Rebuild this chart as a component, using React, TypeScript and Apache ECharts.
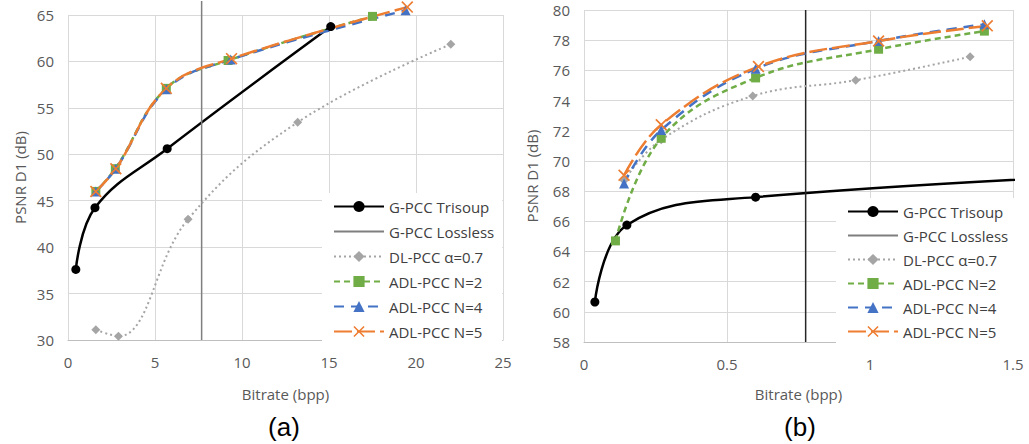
import React, { useEffect, useRef } from "react";
import * as echarts from "echarts";

const seriesNames = ["G-PCC Trisoup", "G-PCC Lossless", "DL-PCC α=0.7", "ADL-PCC N=2", "ADL-PCC N=4", "ADL-PCC N=5"];

// Chart (a)
const trisoupA = [[0.45, 37.6], [1.55, 44.25], [5.7, 50.6], [15.1, 63.75]];
const losslessA = [[7.68, 30], [7.68, 66.5]];
const dlA = [[1.6, 31.1], [2.9, 30.4], [6.9, 43.0], [13.2, 53.45], [22.0, 61.85]];
const n2A = [[1.6, 46.0], [2.72, 48.45], [5.65, 57.1], [9.2, 60.1], [17.5, 64.85]];
const n4A = [[1.6, 46.0], [2.75, 48.45], [5.65, 57.0], [9.35, 60.2], [19.4, 65.5]];
const n5A = [[1.6, 46.0], [2.75, 48.45], [5.65, 57.1], [9.4, 60.3], [19.5, 65.85]];

// Chart (b)
const trisoupB = [[0.038, 60.65], [0.15, 65.75], [0.6, 67.6], [2.5, 69.6]];
const losslessB = [[0.775, 58], [0.775, 80]];
const dlB = [[0.14, 68.7], [0.27, 71.4], [0.59, 74.3], [0.95, 75.35], [1.35, 76.9]];
const n2B = [[0.11, 64.7], [0.27, 71.5], [0.6, 75.5], [1.03, 77.4], [1.4, 78.6]];
const n4B = [[0.14, 68.5], [0.27, 72.05], [0.6, 76.1], [1.03, 77.95], [1.4, 79.05]];
const n5B = [[0.14, 69.05], [0.27, 72.4], [0.61, 76.25], [1.03, 77.95], [1.41, 78.95]];

const xTitle = "Bitrate (bpp)";
const yTitle = "PSNR D1 (dB)";
const captions = ["(a)", "(b)"];

const FONT = "'Open Sans', sans-serif";
const CAPFONT = "'Liberation Sans', Arial, sans-serif";
const XMARK = "path://M2,0 L10,8 L18,0 L20,2 L12,10 L20,18 L18,20 L10,12 L2,20 L0,18 L8,10 L0,2 Z";

function makeSeries(idx: number, data: any[][], clip: boolean, losslessColor: string) {
  const common = { xAxisIndex: idx, yAxisIndex: idx, clip, z: 2 };
  return [
    {
      ...common, name: seriesNames[0], type: "line", data: data[0], smooth: 0.4,
      symbol: "circle", symbolSize: 9,
      itemStyle: { color: "#000000" }, lineStyle: { color: "#000000", width: 2.5 },
    },
    {
      ...common, name: seriesNames[1], type: "line", data: data[1], smooth: false,
      symbol: "circle", symbolSize: 0, showSymbol: false,
      itemStyle: { color: losslessColor, opacity: 0 }, lineStyle: { color: losslessColor, width: 1.5, opacity: 1 },
    },
    {
      ...common, name: seriesNames[2], type: "line", data: data[2], smooth: 0.4,
      symbol: "diamond", symbolSize: 9,
      itemStyle: { color: "#a5a5a5" }, lineStyle: { color: "#a5a5a5", width: 2, type: [2, 3] },
    },
    {
      ...common, name: seriesNames[3], type: "line", data: data[3], smooth: 0.4,
      symbol: "rect", symbolSize: 9,
      itemStyle: { color: "#70ad47" }, lineStyle: { color: "#70ad47", width: 2.5, type: [6, 4] },
    },
    {
      ...common, name: seriesNames[4], type: "line", data: data[4], smooth: 0.4,
      symbol: "triangle", symbolSize: 10,
      itemStyle: { color: "#4472c4" }, lineStyle: { color: "#4472c4", width: 2.5, type: [10, 7] },
    },
    {
      ...common, name: seriesNames[5], type: "line", data: data[5], smooth: 0.4,
      symbol: XMARK, symbolSize: 12,
      itemStyle: { color: "#ed7d31" }, lineStyle: { color: "#ed7d31", width: 2.5, type: [18, 5] },
    },
  ];
}

function axisX(idx: number, min: number, max: number, interval: number, nameGap: number) {
  return {
    type: "value", gridIndex: idx, min, max, interval,
    name: xTitle, nameLocation: "middle", nameGap,
    nameTextStyle: { fontFamily: FONT, fontSize: 15, color: "#595959" },
    axisLine: { show: true, lineStyle: { color: "#bfbfbf", width: 1 } },
    axisTick: { show: false },
    axisLabel: { fontFamily: FONT, fontSize: 15, color: "#595959", margin: 14 },
    splitLine: { show: true, lineStyle: { color: "#d9d9d9", width: 1 } },
  };
}

function axisY(idx: number, min: number, max: number, interval: number, nameGap: number) {
  return {
    type: "value", gridIndex: idx, min, max, interval,
    name: yTitle, nameLocation: "middle", nameGap,
    nameTextStyle: { fontFamily: FONT, fontSize: 15, color: "#595959" },
    axisLine: { show: false },
    axisTick: { show: false },
    axisLabel: { fontFamily: FONT, fontSize: 15, color: "#595959", margin: 14 },
    splitLine: { show: true, lineStyle: { color: "#d9d9d9", width: 1 } },
  };
}

function legend(left: number, top: number, gap: number) {
  return {
    orient: "vertical", left, top, itemWidth: 50, itemHeight: 14, itemGap: gap,
    backgroundColor: "#ffffff", padding: [6, 8, 6, 11],
    data: seriesNames,
    textStyle: { fontFamily: FONT, fontSize: 15, color: "#404040" },
    selectedMode: false,
  };
}

export default function App() {
  const ref = useRef<HTMLDivElement>(null);
  useEffect(() => {
    if (!ref.current) return;
    const chart = echarts.init(ref.current, undefined, { renderer: "svg" });
    chart.setOption({
      animation: false,
      backgroundColor: "#ffffff",
      grid: [
        { left: 68, top: 15, width: 435, height: 325 },
        { left: 584, top: 10, width: 429, height: 332 },
      ],
      xAxis: [axisX(0, 0, 25, 5, 46), axisX(1, 0, 1.5, 0.5, 44)],
      yAxis: [axisY(0, 30, 65, 5, 41), axisY(1, 58, 80, 2, 45)],
      legend: [legend(322, 193, 10), legend(836, 198, 9)],
      series: [
        ...makeSeries(0, [trisoupA, losslessA, dlA, n2A, n4A, n5A], false, "#7f7f7f"),
        ...makeSeries(1, [trisoupB, losslessB, dlB, n2B, n4B, n5B], true, "#262626"),
      ],
      graphic: [
        { type: "text", x: 284, y: 427, style: { text: captions[0], font: `26px ${CAPFONT}`, fill: "#000000", align: "center", verticalAlign: "middle" } },
        { type: "text", x: 800, y: 427, style: { text: captions[1], font: `26px ${CAPFONT}`, fill: "#000000", align: "center", verticalAlign: "middle" } },
      ],
    });
    return () => chart.dispose();
  }, []);
  return <div ref={ref} style={{ width: 1029, height: 444, position: "absolute", left: 0, top: 0 }} />;
}
